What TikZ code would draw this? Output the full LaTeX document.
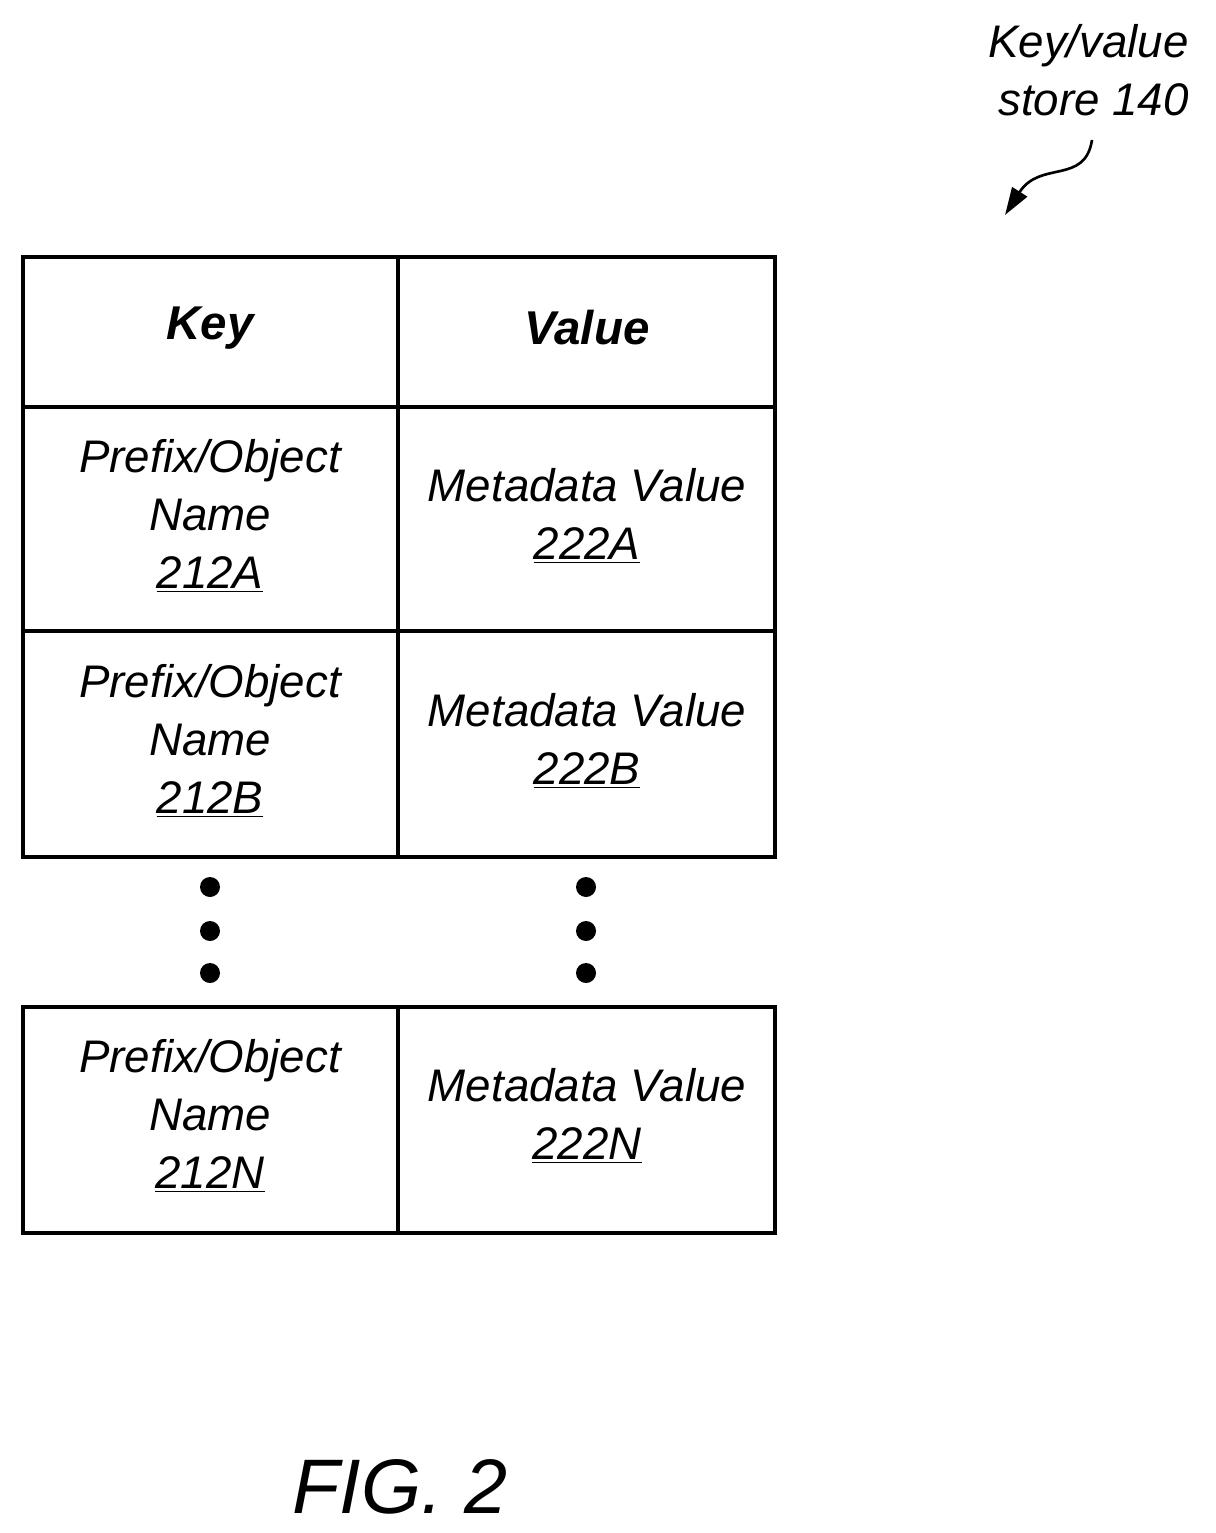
\documentclass[tikz,border=0pt]{standalone}
\usepackage{fontspec}
\setmainfont{Liberation Sans}
\usetikzlibrary{arrows.meta}
\begin{document}
\begin{tikzpicture}[x=0.02cm,y=-0.02cm, text=black,
  cell/.style={align=center, font=\itshape\fontsize{26}{33}\selectfont},
  head/.style={font=\bfseries\itshape\fontsize{27}{33}\selectfont},
  grid line/.style={line width=2.4pt},
  dot/.style={circle, fill=black, inner sep=0pt, minimum size=0.4cm}]
\useasboundingbox (0,0) rectangle (1215,1533);
\def \colL {23}
\def \colM {398}
\def \colR {775}

%Label and pointer
\node[cell, align=right, anchor=north east] (store) at (1195,18) {Key/value\\store 140};
\coordinate (tip) at (1005,215);
\draw[line width=1.5pt, -{Triangle[length=0.55cm,width=0.35cm]}] (1092,140) .. controls (1085,185) and (1040,160) .. (tip);

%Upper table
\draw[grid line] (\colL,257) rectangle (\colR,857);
\draw[grid line] (\colM,257) -- (\colM,857);
\draw[grid line] (\colL,407) -- (\colR,407);
\draw[grid line] (\colL,631) -- (\colR,631);
\node[head] (key) at (210,328) {Key};
\node[head] (value) at (587,328) {Value};
\node[cell] (kA) at (210,516) {Prefix/Object\\Name\\\underline{212A}};
\node[cell] (vA) at (587,516) {Metadata Value\\\underline{222A}};
\node[cell] (kB) at (210,741) {Prefix/Object\\Name\\\underline{212B}};
\node[cell] (vB) at (587,741) {Metadata Value\\\underline{222B}};

%Dots
\foreach \y in {887,931,973} {
  \node[dot] at (210,\y) {};
  \node[dot] at (586,\y) {};
}

%Lower table
\draw[grid line] (\colL,1007) rectangle (\colR,1233);
\draw[grid line] (\colM,1007) -- (\colM,1233);
\node[cell] (kN) at (210,1116) {Prefix/Object\\Name\\\underline{212N}};
\node[cell] (vN) at (587,1116) {Metadata Value\\\underline{222N}};

\node[font=\itshape\fontsize{44}{50}\selectfont] (fig) at (400,1487) {FIG. 2};
\end{tikzpicture}
\end{document}
